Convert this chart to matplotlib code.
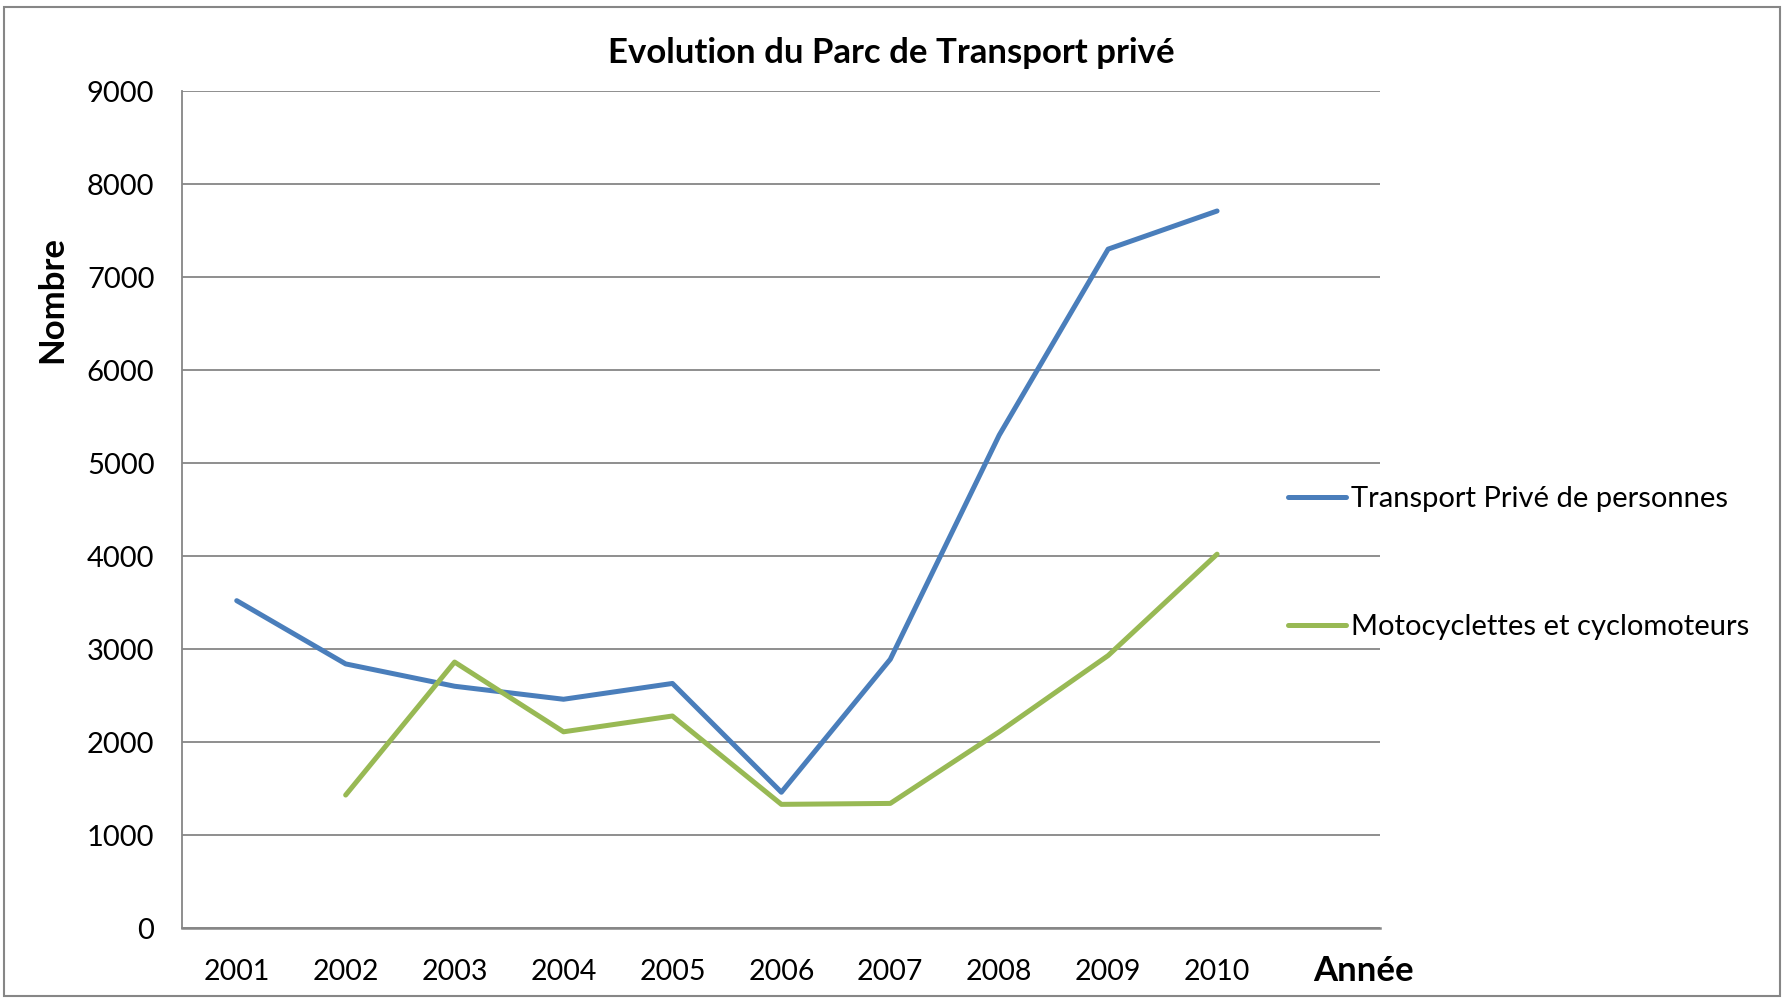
import matplotlib
matplotlib.use("Agg")
import matplotlib.pyplot as plt
from matplotlib.patches import Rectangle
import numpy as np

years = ["2001", "2002", "2003", "2004", "2005", "2006", "2007", "2008", "2009", "2010"]
transport_prive = [3520, 2840, 2600, 2460, 2630, 1460, 2890, 5300, 7300, 7710]
motocyclettes = [np.nan, 1430, 2860, 2110, 2280, 1330, 1340, 2110, 2930, 4020]
series_names = ["Transport Privé de personnes", "Motocyclettes et cyclomoteurs"]
title = "Evolution du Parc de Transport privé"
x_title = "Année"
y_title = "Nombre"

plt.rcParams['font.family'] = ['Lato', 'DejaVu Sans']

fig = plt.figure(figsize=(17.87, 9.98), dpi=100)
ax = fig.add_axes([0.1020, 0.0701, 0.6705, 0.8387])

x = np.arange(len(years))
ax.plot(x, transport_prive, color="#4A7EBB", lw=3.6, solid_capstyle="round", solid_joinstyle="round", label=series_names[0])
ax.plot(x, motocyclettes, color="#98B954", lw=3.6, solid_capstyle="round", solid_joinstyle="round", label=series_names[1])

ax.set_xlim(-0.5, len(years) + 0.5)
ax.set_ylim(0, 9000)
ax.set_yticks(np.arange(0, 9001, 1000))
ax.set_xticks(x)
ax.set_xticklabels(years)
ax.tick_params(axis="x", length=0, pad=22, labelsize=20.5)
ax.tick_params(axis="y", length=0, pad=20, labelsize=21)

ax.grid(axis="y", color="#868686", lw=1.3)
ax.set_axisbelow(True)
for s in ["top", "right"]:
    ax.spines[s].set_visible(False)
ax.spines["left"].set_color("#868686")
ax.spines["left"].set_linewidth(1.3)
ax.spines["bottom"].set_color("#868686")
ax.spines["bottom"].set_linewidth(1.8)

fig.text(0.4988, 0.947, title, ha="center", va="center", fontsize=25, fontweight="bold")
fig.text(0.029, 0.700, y_title, ha="center", va="center", rotation=90, fontsize=25, fontweight="bold")
fig.text(0.7628, 0.027, x_title, ha="center", va="center", fontsize=25, fontweight="bold")

leg = fig.legend(handles=ax.get_lines(), loc="center left", bbox_to_anchor=(0.7208, 0.436),
                 frameon=False, fontsize=21, handlelength=2.0, handletextpad=0.15,
                 labelspacing=3.5, borderaxespad=0, borderpad=0)

fig.patches.append(Rectangle((0.002, 0.002), 0.994, 0.991, transform=fig.transFigure,
                             fill=False, edgecolor="#868686", lw=1.5))

fig.savefig("out.png", dpi=100)
